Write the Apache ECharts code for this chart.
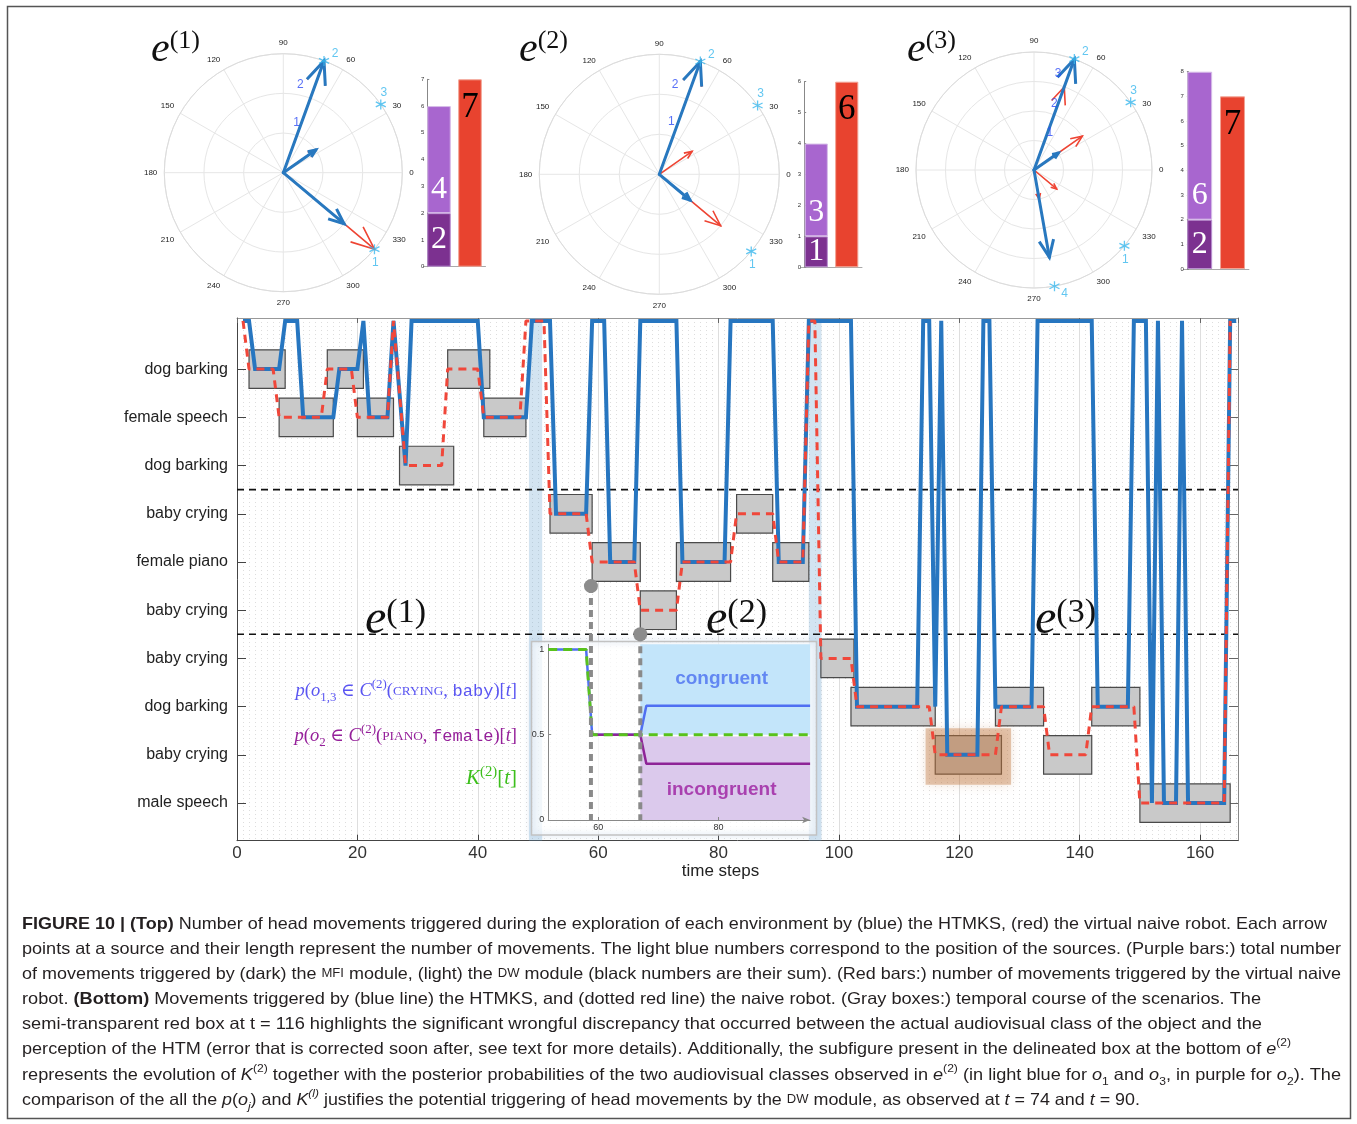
<!DOCTYPE html>
<html>
<head>
<meta charset="utf-8">
<title>Figure 10</title>
<script src="https://cdn.jsdelivr.net/npm/echarts@6.0.0/dist/echarts.min.js"></script>
<style>
html,body{margin:0;padding:0;background:#ffffff;}
#chart{width:1357px;height:1124px;}
</style>
</head>
<body>
<div id="chart"></div>
<script>
// ---------------- data ----------------
const sceneLabels = ['dog barking','female speech','dog barking','baby crying','female piano','baby crying','baby crying','dog barking','baby crying','male speech'];
const sceneLevels = sceneLabels.map((_, i) => i + 1);
// gray scenario boxes: [t start, t end, level]
const scenarioBoxes = [[2,8,1],[7,16,2],[15,21,1],[20,26,2],[27,36,3],[35,42,1],[41,48,2],
  [52,59,4],[59,67,5],[67,73,6],[73,82,5],[83,89,4],[89,95,5],
  [97,102.5,7],[102,116,8],[116,127,9],[126,134,8],[134,142,9],[142,150,8],[150,165,10]];
// HTMKS head movements (blue): [t, level], level 0 = head movement
const htmksPath = [[1,0],[2,0],[3,1],[7,1],[8,0],[10,0],[11,2],[16,2],[17,1],[20,1],[21,0],[22,2],[25,2],[26,0],[28,3],[29,0],
  [40,0],[41,2],[48,2],[49,0],[52,0],[53,4],[58,4],[59,0],[61,0],[62,5],[66,5],[67,0],[73,0],[74,5],[81,5],[82,0],[89,0],[90,5],[94,5],[95,0],
  [102,0],[103,8],[113,8],[114,0],[115,0],[116,8],[117,0],[118,9],[123,9],[124,0],[125,0],[126,8],[132,8],[133,0],[142,0],[143,8],[148,8],[149,0],
  [151,0],[152,10],[153,0],[154,10],[156,10],[157,0],[158,10],[164,10],[165,0],[166,0]];
// naive robot (red dashed)
const naivePath = [[1,0],[2,1],[6,1],[7,2],[14,2],[15,1],[19,1],[20,2],[25,2],[26,0],[28,3],[34,3],[35,1],[40,1],[41,2],[47,2],[48,0],[51,0],
  [52,4],[58,4],[59,5],[66,5],[67,6],[73,6],[74,5],[82,5],[83,4],[89,4],[90,5],[94,5],[95,0],[96,0],
  [97,7],[102,7],[103,8],[115,8],[116,9],[126,9],[127,8],[134,8],[135,9],[141,9],[142,8],[149,8],[150,10],[164,10],[165,0]];
const exploreBands = [[48.5,50.7],[95,97.1]];
const errorBox = [[114.4,128.6,8.45,9.62]];
const envSeparators = [3.5,6.5];
const triggerMarks = [[58.8,5.5,10.35],[67,6.5,10.35]];
// inset
const insetTicks = [60,80];
const probTicks = [0,0.5,1];
const probCrying = [[51.7,1],[58,1],[59,0.5],[67,0.5],[68,0.67],[95.2,0.67]];
const probPiano = [[59,0.5],[67,0.5],[68,0.33],[95.2,0.33]];
const kThreshold = [[51.7,1],[58,1],[59,0.5],[95.2,0.5]];
const congruentZone = [[67,95.2,0.5,1.03]];
const incongruentZone = [[67,95.2,0,0.49]];
const zoneLabels = [[80.5,0.83,'congruent'],[80.5,0.18,'incongruent']];
// polar arrows: [length, angle]
const blueArrows1 = [[3,70],[1,35],[2,320]];
const redArrows1 = [[3,70],[1,35],[3,320]];
const blueArrows2 = [[3,70],[1,320]];
const redArrows2 = [[3,70],[1,35],[2,320]];
const blueArrows3 = [[4,70],[1,35],[3,280]];
const redArrows3 = [[3,70],[2,35],[1,320],[1,280]];
// sources: [angle, id]
const sources1 = [[320,'1'],[70,'2'],[35,'3']];
const sources2 = [[320,'1'],[70,'2'],[35,'3']];
const sources3 = [[320,'1'],[70,'2'],[35,'3'],[280,'4']];
// blue step numbers: [radius, angle, label]
const steps1 = [[1.3,75,'1'],[2.25,79,'2'],[3.25,79,'3']];
const steps2 = [[1.35,77,'1'],[2.27,80,'2'],[3.2,80,'3']];
const steps3 = [[1.38,67,'1'],[2.36,73,'2'],[3.38,76,'3'],[4.37,77,'4']];
const polarMax = [3,3,4];
// bars
const movesMFI = [2,1,2];
const movesDW = [4,3,6];
const movesNaive = [7,6,7];
const barAxisMax = [7,6,8];

// ---------------- helpers ----------------
const SANS = 'Liberation Sans, Arial, Helvetica, sans-serif';
const SERIF = 'Liberation Serif, DejaVu Serif, serif';
const MONO = 'Liberation Mono, DejaVu Sans Mono, monospace';

function arrowRender(color, width) {
  return function (params, api) {
    const len = api.value(0), ang = api.value(1);
    const c = api.coord([0, ang]);
    const tip = api.coord([len, ang]);
    const dx = tip[0] - c[0], dy = tip[1] - c[1];
    const L = Math.hypot(dx, dy) || 1;
    const bx = -dx / L, by = -dy / L;
    const h = L * 0.21, a = 23 * Math.PI / 180;
    const r = (x, y, t) => [x * Math.cos(t) - y * Math.sin(t), x * Math.sin(t) + y * Math.cos(t)];
    const b1 = r(bx, by, a), b2 = r(bx, by, -a);
    return {
      type: 'group',
      children: [
        {type: 'line', shape: {x1: c[0], y1: c[1], x2: tip[0], y2: tip[1]}, style: {stroke: color, lineWidth: width, lineCap: 'round'}},
        {type: 'polyline', shape: {points: [[tip[0] + b1[0] * h, tip[1] + b1[1] * h], tip, [tip[0] + b2[0] * h, tip[1] + b2[1] * h]]},
          style: {stroke: color, lineWidth: width, fill: null, lineJoin: 'miter'}}
      ]
    };
  };
}
function sourceLabel(angle) {
  if (angle === 70) return {position: 'right', offset: [-1, -7]};
  if (angle === 35) return {position: 'top', offset: [3, 3]};
  if (angle === 280) return {position: 'right', offset: [-2, 7]};
  return {position: 'bottom', offset: [1, -1]};
}
const ASTERISK = 'path://M0,-6L0,6M-5.2,-3L5.2,3M-5.2,3L5.2,-3';

// ---------------- axes ----------------
const X_INSET = 3;
const xAxes = [
  {gridIndex: 0, type: 'value', min: 0, max: 166.3, interval: 20, position: 'bottom',
    name: 'time steps', nameLocation: 'middle', nameGap: 17,
    nameTextStyle: {fontSize: 17, color: '#222', fontFamily: SANS, padding: [0, 34, 0, 0]},
    axisLine: {onZero: false, lineStyle: {color: '#444', width: 1}},
    axisTick: {inside: true, length: 6, lineStyle: {color: '#444'}},
    axisLabel: {fontSize: 17, color: '#333', margin: 4, fontFamily: SANS, showMaxLabel: false},
    splitLine: {show: true, lineStyle: {color: '#dedede', width: 1}}},
  {gridIndex: 0, type: 'value', min: 0, max: 166.3, interval: 20, position: 'top',
    axisLine: {onZero: false, lineStyle: {color: '#999', width: 1}},
    axisTick: {inside: true, length: 5, lineStyle: {color: '#666'}},
    axisLabel: {show: false},
    splitLine: {show: false}},
  // minor dotted grid, one line per time step
  {gridIndex: 0, type: 'value', min: 0, max: 166.3, interval: 1, position: 'bottom', offset: 0,
    axisLine: {show: false}, axisTick: {show: false}, axisLabel: {show: false},
    splitLine: {show: true, lineStyle: {color: '#dddddd', type: [1, 3], width: 1}}},
  {gridIndex: 1, type: 'value', min: 51.7, max: 95.2, z: 9,
    axisLine: {show: true, onZero: false, symbol: ['none', 'arrow'], symbolSize: [5, 8], lineStyle: {color: '#888'}},
    axisTick: {customValues: insetTicks, inside: true, length: 3, lineStyle: {color: '#888'}},
    axisLabel: {customValues: insetTicks, fontSize: 9, color: '#333', margin: 3, fontFamily: SANS},
    splitLine: {show: false}}
];
const yAxes = [
  {gridIndex: 0, type: 'value', inverse: true, min: -0.06, max: 10.78, position: 'left',
    axisLine: {show: true, onZero: false, lineStyle: {color: '#444'}},
    axisTick: {show: true, inside: true, length: 9, customValues: sceneLevels, lineStyle: {color: '#444'}},
    axisLabel: {customValues: sceneLevels, formatter: v => sceneLabels[Math.round(v) - 1] || '', fontSize: 16, color: '#222', margin: 9, fontFamily: SANS},
    splitLine: {show: false}},
  {gridIndex: 0, type: 'value', inverse: true, min: -0.06, max: 10.78, position: 'right',
    axisLine: {show: true, onZero: false, lineStyle: {color: '#888'}},
    axisTick: {show: true, inside: true, length: 9, customValues: sceneLevels, lineStyle: {color: '#666'}},
    axisLabel: {show: false}, splitLine: {show: false}},
  {gridIndex: 1, type: 'value', min: 0, max: 1.03, z: 9,
    axisLine: {show: true, lineStyle: {color: '#888'}},
    axisTick: {customValues: probTicks, inside: true, length: 3, lineStyle: {color: '#888'}},
    axisLabel: {customValues: probTicks, fontSize: 9, color: '#333', margin: 4, fontFamily: SANS},
    splitLine: {show: false}}
];
const barGrids = [
  {left: 423.5, top: 79.3, width: 62, height: 187.4, off: -3.8},
  {left: 801, top: 81.7, width: 61, height: 185.6, off: -3.2},
  {left: 1183.3, top: 71.7, width: 65.6, height: 197.3, off: -3.6}
];
barGrids.forEach((g, k) => {
  xAxes.push({gridIndex: 2 + k, type: 'category', data: ['HTMKS', 'naive'],
    axisLine: {show: true, lineStyle: {color: '#aaa'}}, axisTick: {show: false}, axisLabel: {show: false}});
  yAxes.push({gridIndex: 2 + k, type: 'value', min: 0, max: barAxisMax[k], interval: 1, offset: g.off,
    axisLine: {show: true, lineStyle: {color: '#888'}},
    axisTick: {show: true, inside: true, length: 2, lineStyle: {color: '#888'}},
    axisLabel: {fontSize: 6, color: '#333', margin: 3, fontFamily: SANS},
    splitLine: {show: false}});
});

// ---------------- series ----------------
const series = [];
series.push({
  type: 'custom', name: 'exploration', xAxisIndex: 0, yAxisIndex: 0, z: 1, silent: true, data: exploreBands,
  renderItem(params, api) {
    const cs = params.coordSys;
    const x0 = api.coord([api.value(0), 0])[0], x1 = api.coord([api.value(1), 0])[0];
    return {type: 'rect', shape: {x: x0, y: cs.y, width: x1 - x0, height: cs.height}, style: {fill: 'rgba(110,165,210,0.30)'}};
  }
});
series.push({
  type: 'custom', name: 'scenarios', xAxisIndex: 0, yAxisIndex: 0, z: 2, silent: true, data: scenarioBoxes,
  renderItem(params, api) {
    const lv = api.value(2);
    const p0 = api.coord([api.value(0), lv - 0.4]), p1 = api.coord([api.value(1), lv + 0.4]);
    return {type: 'rect', shape: {x: p0[0], y: Math.min(p0[1], p1[1]), width: p1[0] - p0[0], height: Math.abs(p1[1] - p0[1])},
      style: {fill: '#c9c9c9', stroke: '#4a4a4a', lineWidth: 1.2}};
  }
});
series.push({
  type: 'custom', name: 'error', xAxisIndex: 0, yAxisIndex: 0, z: 3, silent: true, data: errorBox,
  renderItem(params, api) {
    const p0 = api.coord([api.value(0), api.value(2)]), p1 = api.coord([api.value(1), api.value(3)]);
    return {type: 'rect', shape: {x: p0[0], y: Math.min(p0[1], p1[1]), width: p1[0] - p0[0], height: Math.abs(p1[1] - p0[1])},
      style: {fill: 'rgba(188,112,55,0.38)', shadowBlur: 10, shadowColor: 'rgba(188,112,55,0.45)'}};
  }
});
series.push({
  type: 'custom', name: 'separators', xAxisIndex: 0, yAxisIndex: 0, z: 4, silent: true, data: envSeparators.map(v => [0, v]),
  renderItem(params, api) {
    const cs = params.coordSys;
    const y = api.coord([0, api.value(1)])[1];
    return {type: 'line', shape: {x1: cs.x, y1: y, x2: cs.x + cs.width, y2: y}, style: {stroke: '#111', lineWidth: 1.6, lineDash: [7, 5]}};
  }
});
series.push({type: 'line', name: 'HTMKS', xAxisIndex: 0, yAxisIndex: 0, z: 5, data: htmksPath, symbol: 'none', silent: true,
  lineStyle: {color: '#2776c0', width: 4, join: 'miter'}});
series.push({type: 'line', name: 'naive robot', xAxisIndex: 0, yAxisIndex: 0, z: 6, data: naivePath, symbol: 'none', silent: true,
  lineStyle: {color: '#f0473a', width: 3, type: [8, 6]}});
// inset
function zoneSeries(data, color) {
  return {type: 'custom', xAxisIndex: X_INSET, yAxisIndex: 2, z: 8, silent: true, data,
    renderItem(params, api) {
      const p0 = api.coord([api.value(0), api.value(2)]), p1 = api.coord([api.value(1), api.value(3)]);
      return {type: 'rect', shape: {x: p0[0], y: Math.min(p0[1], p1[1]), width: p1[0] - p0[0], height: Math.abs(p1[1] - p0[1])}, style: {fill: color}};
    }};
}
series.push(zoneSeries(congruentZone, '#c3e5fa'));
series.push(zoneSeries(incongruentZone, '#dbc9ec'));
series.push({type: 'line', name: 'p crying', xAxisIndex: X_INSET, yAxisIndex: 2, z: 9, data: probCrying, symbol: 'none', silent: true,
  lineStyle: {color: '#4f6ff2', width: 2.5}});
series.push({type: 'line', name: 'p piano', xAxisIndex: X_INSET, yAxisIndex: 2, z: 9, data: probPiano, symbol: 'none', silent: true,
  lineStyle: {color: '#8e2497', width: 2.5}});
series.push({type: 'line', name: 'K', xAxisIndex: X_INSET, yAxisIndex: 2, z: 9, data: kThreshold, symbol: 'none', silent: true,
  lineStyle: {color: '#58c21b', width: 3, type: [9, 6]}});
series.push({type: 'scatter', xAxisIndex: X_INSET, yAxisIndex: 2, z: 9, silent: true, symbolSize: 1,
  itemStyle: {color: 'rgba(0,0,0,0)'},
  data: zoneLabels.map((d, i) => ({value: [d[0], d[1]], name: d[2], label: {color: i === 0 ? '#4a6ff0' : '#9c1ea0'}})),
  label: {show: true, position: 'inside', formatter: p => p.name, fontSize: 19, fontWeight: 'bold', fontFamily: SANS}
});
series.push({
  type: 'custom', name: 'triggers', xAxisIndex: 0, yAxisIndex: 0, z: 10, silent: true, data: triggerMarks,
  renderItem(params, api) {
    const p0 = api.coord([api.value(0), api.value(1)]), p1 = api.coord([api.value(0), api.value(2)]);
    return {type: 'group', children: [
      {type: 'line', shape: {x1: p0[0], y1: p0[1], x2: p1[0], y2: p1[1]}, style: {stroke: '#8a8a8a', lineWidth: 4, lineDash: [7, 5]}},
      {type: 'circle', shape: {cx: p0[0], cy: p0[1], r: 7}, style: {fill: '#8c8c8c'}}
    ]};
  }
});
// polar panels
const allBlue = [blueArrows1, blueArrows2, blueArrows3];
const allRed = [redArrows1, redArrows2, redArrows3];
const allSources = [sources1, sources2, sources3];
const allSteps = [steps1, steps2, steps3];
for (let k = 0; k < 3; k++) {
  series.push({type: 'custom', coordinateSystem: 'polar', polarIndex: k, z: 3, silent: true, data: allRed[k], renderItem: arrowRender('#ee4433', 1.6)});
  series.push({type: 'custom', coordinateSystem: 'polar', polarIndex: k, z: 4, silent: true, data: allBlue[k], renderItem: arrowRender('#2878bf', 3)});
  series.push({type: 'scatter', coordinateSystem: 'polar', polarIndex: k, z: 5, silent: true,
    symbol: ASTERISK, symbolSize: 10,
    itemStyle: {color: 'rgba(0,0,0,0)', borderColor: '#3ab8ee', borderWidth: 1.3},
    data: allSources[k].map(s => ({value: [polarMax[k], s[0]], name: s[1], label: sourceLabel(s[0])})),
    label: {show: true, formatter: p => p.name, fontSize: 12, color: '#3ab8ee', fontFamily: SANS, distance: 3}});
  series.push({type: 'scatter', coordinateSystem: 'polar', polarIndex: k, z: 5, silent: true, symbolSize: 1,
    itemStyle: {color: 'rgba(0,0,0,0)'},
    data: allSteps[k].map(s => ({value: [s[0], s[1]], name: s[2]})),
    label: {show: true, position: 'inside', formatter: p => p.name, fontSize: 12, color: '#2e4cf5', fontFamily: SANS}});
}
// bars
for (let k = 0; k < 3; k++) {
  const common = {type: 'bar', xAxisIndex: X_INSET + 1 + k, yAxisIndex: 3 + k, stack: 'moves' + k, barWidth: '76%', silent: true};
  series.push(Object.assign({}, common, {name: 'MFI', data: [movesMFI[k], '-'],
    itemStyle: {color: '#7c3190', borderColor: '#b98fd0', borderWidth: 1},
    label: {show: true, position: 'inside', formatter: p => p.value, fontFamily: SERIF, fontSize: 32, color: '#fff'}}));
  series.push(Object.assign({}, common, {name: 'DW', data: [movesDW[k], '-'],
    itemStyle: {color: '#a866cf', borderColor: '#d6bce8', borderWidth: 1},
    label: {show: true, position: 'insideBottom', distance: 8, formatter: p => p.value, fontFamily: SERIF, fontSize: 32, color: '#fff'}}));
  series.push(Object.assign({}, common, {name: 'naive', data: ['-', movesNaive[k]],
    itemStyle: {color: '#e8432f', borderColor: '#f2a394', borderWidth: 1},
    label: {show: true, position: 'insideTop', distance: 11, formatter: p => p.value, fontFamily: SERIF, fontSize: 35, color: '#000'}}));
}

// ---------------- polar components ----------------
const polars = [
  {center: [283.3, 172.7], radius: 119},
  {center: [659.3, 174.3], radius: 120},
  {center: [1034, 170], radius: 118}
];
const angleAxes = polars.map((_, k) => ({polarIndex: k, type: 'value', min: 0, max: 360, interval: 30, startAngle: 0, clockwise: false,
  axisLine: {show: true, lineStyle: {color: '#dcdcdc'}}, axisTick: {show: false},
  axisLabel: {fontSize: 8, color: '#222', margin: 7, fontFamily: SANS, formatter: v => (v >= 360 ? '' : String(v))},
  splitLine: {show: true, lineStyle: {color: '#e6e6e6'}}}));
const radiusAxes = polars.map((_, k) => ({polarIndex: k, type: 'value', min: 0, max: polarMax[k], interval: 1,
  axisLine: {show: false}, axisTick: {show: false}, axisLabel: {show: false},
  splitLine: {show: true, lineStyle: {color: '#e6e6e6'}}}));

// ---------------- text (graphic) ----------------
const mctx = document.createElement('canvas').getContext('2d');
function fontOf(s) { return `${s.fontStyle || 'normal'} ${s.fontWeight || 'normal'} ${s.fontSize}px ${s.fontFamily}`; }
function measureRich(str, base, rich) {
  let w = 0, last = 0, m; const re = /\{(\w+)\|([^}]*)\}/g;
  while ((m = re.exec(str))) {
    if (m.index > last) { mctx.font = fontOf(base); w += mctx.measureText(str.slice(last, m.index)).width; }
    mctx.font = fontOf(Object.assign({}, base, rich[m[1]])); w += mctx.measureText(m[2]).width;
    last = re.lastIndex;
  }
  if (last < str.length) { mctx.font = fontOf(base); w += mctx.measureText(str.slice(last)).width; }
  return w;
}
const capColor = '#231f20';
const capBase = {fontSize: 16.5, fontFamily: SANS, fontWeight: 'normal', fontStyle: 'normal'};
const capRich = {
  b: {fontSize: 16.5, fontFamily: SANS, fontWeight: 'bold', fill: capColor, lineHeight: 24},
  i: {fontSize: 16.5, fontFamily: SANS, fontStyle: 'italic', fill: capColor, lineHeight: 24},
  sc: {fontSize: 12, fontFamily: SANS, fill: capColor, lineHeight: 24},
  sup: {fontSize: 11, fontFamily: SANS, fill: capColor, lineHeight: 9, verticalAlign: 'top'},
  isup: {fontSize: 11, fontFamily: SANS, fontStyle: 'italic', fill: capColor, lineHeight: 9, verticalAlign: 'top'},
  sub: {fontSize: 11, fontFamily: SANS, fill: capColor, lineHeight: 12, verticalAlign: 'bottom'},
  isub: {fontSize: 11, fontFamily: SANS, fontStyle: 'italic', fill: capColor, lineHeight: 12, verticalAlign: 'bottom'}
};
const captionLines = [
  '{b|FIGURE 10 | (Top)} Number of head movements triggered during the exploration of each environment by (blue) the HTMKS, (red) the virtual naive robot. Each arrow',
  'points at a source and their length represent the number of movements. The light blue numbers correspond to the position of the sources. (Purple bars:) total number',
  'of movements triggered by (dark) the {sc|MFI} module, (light) the {sc|DW} module (black numbers are their sum). (Red bars:) number of movements triggered by the virtual naive',
  'robot. {b|(Bottom)} Movements triggered by (blue line) the HTMKS, and (dotted red line) the naive robot. (Gray boxes:) temporal course of the scenarios. The',
  'semi-transparent red box at t = 116 highlights the significant wrongful discrepancy that occurred between the actual audiovisual class of the object and the',
  'perception of the HTM (error that is corrected soon after, see text for more details). Additionally, the subfigure present in the delineated box at the bottom of {i|e}{sup|(2)}',
  'represents the evolution of {i|K}{sup|(2)} together with the posterior probabilities of the two audiovisual classes observed in {i|e}{sup|(2)} (in light blue for {i|o}{sub|1} and {i|o}{sub|3}, in purple for {i|o}{sub|2}). The',
  'comparison of the all the {i|p}({i|o}{isub|j}) and {i|K}{isup|(l)} justifies the potential triggering of head movements by the {sc|DW} module, as observed at {i|t} = 74 and {i|t} = 90.'
];
const captionY = [924, 949, 974, 999, 1024, 1049, 1075, 1100];
const captionEnd = [1327, 1341, 1341, 1261, 1262, 1291, 1341, 1140];

const graphics = [];
graphics.push({type: 'rect', z: 0, silent: true, shape: {x: 7.5, y: 6.5, width: 1343, height: 1112}, style: {fill: null, stroke: '#555', lineWidth: 1.5}});
// inset frame
graphics.push({type: 'rect', z: 7, silent: true, shape: {x: 531.5, y: 641.5, width: 285, height: 193.5}, style: {fill: 'rgba(255,255,255,0.70)'}});
graphics.push({type: 'rect', z: 7, silent: true, shape: {x: 531.5, y: 641.5, width: 285, height: 193.5},
  style: {fill: null, stroke: '#c2c2c2', lineWidth: 1.5, shadowBlur: 6, shadowColor: 'rgba(130,170,210,0.55)'}});
captionLines.forEach((t, i) => {
  const w = measureRich(t, capBase, capRich);
  const sx = (captionEnd[i] - 22) / w;
  graphics.push({type: 'text', z: 20, silent: true, x: 22, y: captionY[i], scaleX: sx,
    style: {text: t, rich: capRich, fontSize: 16.5, fontFamily: SANS, fill: capColor, lineHeight: 24,
      align: 'left', verticalAlign: 'middle', textAlign: 'left', textVerticalAlign: 'middle'}});
});
// environment labels
function envLabel(x, y, n, big) {
  const eS = big ? 48 : 42, sS = big ? 34 : 26;
  return {type: 'text', z: 20, silent: true, x, y,
    style: {text: '{e|e}{s|(' + n + ')}', align: 'left', verticalAlign: 'top', textAlign: 'left', textVerticalAlign: 'top',
      rich: {e: {fontFamily: SERIF, fontStyle: 'italic', fontSize: eS, lineHeight: eS, fill: '#111'},
             s: {fontFamily: SERIF, fontSize: sS, lineHeight: sS, verticalAlign: 'top', fill: '#111'}}}};
}
graphics.push(envLabel(151, 28.5, 1, false), envLabel(519, 28.5, 2, false), envLabel(907, 28.5, 3, false));
graphics.push(envLabel(365, 596.5, 1, true), envLabel(706, 596.5, 2, true), envLabel(1035, 596.5, 3, true));
// math annotations
function mathRich(color, fs) {
  return {
    n: {fontFamily: SERIF, fontSize: fs, fill: color, lineHeight: 26},
    i: {fontFamily: SERIF, fontStyle: 'italic', fontSize: fs, fill: color, lineHeight: 26},
    sc: {fontFamily: SERIF, fontSize: fs * 0.72, fill: color, lineHeight: 26},
    tt: {fontFamily: MONO, fontSize: fs * 0.92, fill: color, lineHeight: 26},
    sup: {fontFamily: SERIF, fontSize: fs * 0.7, fill: color, lineHeight: 9, verticalAlign: 'top'},
    sub: {fontFamily: SERIF, fontSize: fs * 0.7, fill: color, lineHeight: 12, verticalAlign: 'bottom'}
  };
}
function mathText(y, text, color, fs) {
  return {type: 'text', z: 20, silent: true, x: 517, y,
    style: {text, rich: mathRich(color, fs), fontFamily: SERIF, fontSize: fs, fill: color, lineHeight: 26,
      align: 'right', verticalAlign: 'middle', textAlign: 'right', textVerticalAlign: 'middle'}};
}
graphics.push(mathText(691, '{i|p}{n|(}{i|o}{sub|1,3}{n| ∈ }{i|C}{sup|(2)}{n|(}{sc|CRYING}{n|, }{tt|baby}{n|)[}{i|t}{n|]}', '#5a55f2', 18.5));
graphics.push(mathText(736, '{i|p}{n|(}{i|o}{sub|2}{n| ∈ }{i|C}{sup|(2)}{n|(}{sc|PIANO}{n|, }{tt|female}{n|)[}{i|t}{n|]}', '#95209a', 18.5));
graphics.push(mathText(778, '{i|K}{sup|(2)}{n|[}{i|t}{n|]}', '#3dbf1c', 21));

const option = {
  animation: false,
  backgroundColor: '#ffffff',
  textStyle: {fontFamily: SANS},
  grid: [
    {left: 237, top: 318, width: 1001, height: 522.7},
    {left: 548.2, top: 644.3, width: 261.9, height: 175.7}
  ].concat(barGrids.map(g => ({left: g.left, top: g.top, width: g.width, height: g.height}))),
  xAxis: xAxes,
  yAxis: yAxes,
  polar: polars,
  angleAxis: angleAxes,
  radiusAxis: radiusAxes,
  series,
  graphic: {elements: graphics}
};
const chart = echarts.init(document.getElementById('chart'), null, {renderer: 'canvas'});
chart.setOption(option);
</script>
</body>
</html>
